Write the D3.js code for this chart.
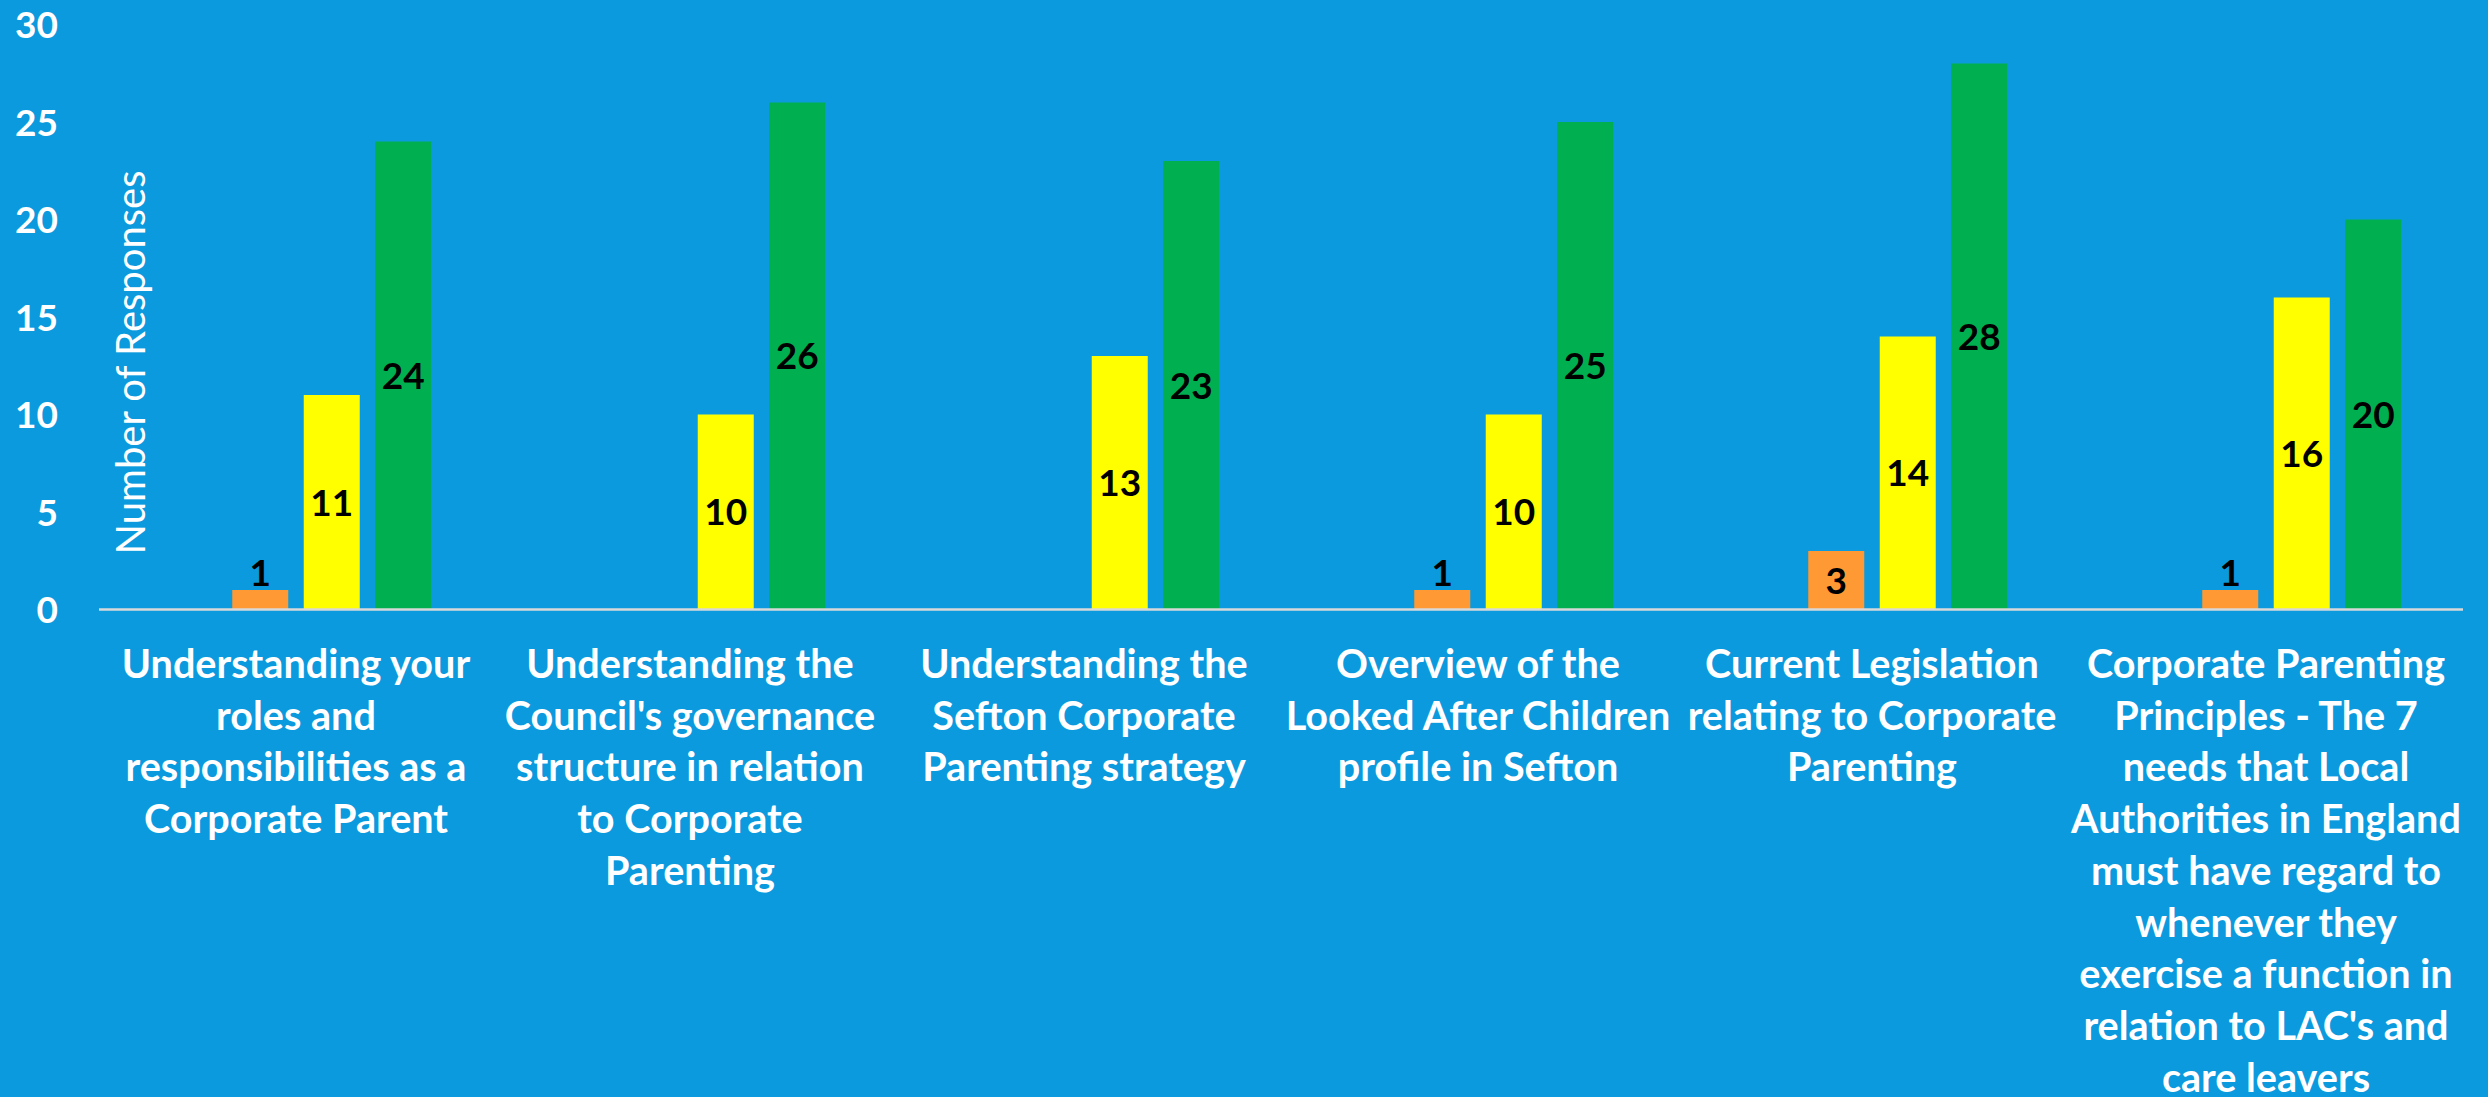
<!DOCTYPE html>
<html>
<head>
<meta charset="utf-8">
<script src="https://cdn.jsdelivr.net/npm/d3@7"></script>
<style>
  html, body { margin: 0; padding: 0; background: #0B9ADE; overflow: hidden; }
  svg { display: block; }
  text { font-family: "Lato", "Open Sans", sans-serif; }
</style>
</head>
<body>
<svg id="chart" width="2488" height="1097"></svg>
<script>
// ---- data ----
const categories = [
  ["Understanding your", "roles and", "responsibilities as a", "Corporate Parent"],
  ["Understanding the", "Council's governance", "structure in relation", "to Corporate", "Parenting"],
  ["Understanding the", "Sefton Corporate", "Parenting strategy"],
  ["Overview of the", "Looked After Children", "profile in Sefton"],
  ["Current Legislation", "relating to Corporate", "Parenting"],
  ["Corporate Parenting", "Principles - The 7", "needs that Local", "Authorities in England", "must have regard to", "whenever they", "exercise a function in", "relation to LAC's and", "care leavers"]
];
const seriesNames = ["None", "Low", "Medium", "High"];
const seriesNone   = [0, 0, 0, 0, 0, 0];
const seriesLow    = [1, null, null, 1, 3, 1];
const seriesMedium = [11, 10, 13, 10, 14, 16];
const seriesHigh   = [24, 26, 23, 25, 28, 20];
const seriesColors = ["#0B9ADE", "#FF9933", "#FFFF00", "#00B050"];
const yTicks = [0, 5, 10, 15, 20, 25, 30];
const yTitle = "Number of Responses";

// ---- layout ----
const svg = d3.select("#chart");
const plotLeft = 99, plotRight = 2463, plotTop = 24.5, plotBottom = 609.5;

const x0 = d3.scaleBand()
  .domain(d3.range(categories.length))
  .range([plotLeft, plotRight])
  .paddingInner(0).paddingOuter(0);

const x1 = d3.scaleBand()
  .domain(seriesNames)
  .range([0, x0.bandwidth()])
  .paddingInner(0.2168)
  .paddingOuter(0.8637);

const y = d3.scaleLinear().domain([0, 30]).range([plotBottom, plotTop]);

const seriesValues = [seriesNone, seriesLow, seriesMedium, seriesHigh];

// bars
const groups = svg.append("g").selectAll("g")
  .data(categories.map((c, i) => i))
  .join("g")
  .attr("transform", i => `translate(${x0(i)},0)`);

seriesNames.forEach((name, s) => {
  if (s === 0) return;
  groups.append("rect")
    .filter(i => seriesValues[s][i] != null && seriesValues[s][i] > 0)
    .attr("x", x1(name))
    .attr("width", x1.bandwidth())
    .attr("y", i => y(seriesValues[s][i]))
    .attr("height", i => y(0) - y(seriesValues[s][i]))
    .attr("fill", seriesColors[s]);
});

// x axis line
svg.append("line")
  .attr("x1", plotLeft).attr("x2", plotRight)
  .attr("y1", y(0)).attr("y2", y(0))
  .attr("stroke", "#D9D9D9").attr("stroke-width", 2.5);

// value labels
seriesNames.forEach((name, s) => {
  if (s === 0) return;
  groups.append("text")
    .filter(i => seriesValues[s][i] != null && seriesValues[s][i] > 0)
    .attr("x", x1(name) + x1.bandwidth() / 2)
    .attr("y", i => {
      const v = seriesValues[s][i];
      const h = y(0) - y(v);
      return h < 30 ? y(v) - 4 : (y(v) + y(0)) / 2;
    })
    .attr("dy", i => {
      const v = seriesValues[s][i];
      const h = y(0) - y(v);
      return h < 30 ? "0" : "0.36em";
    })
    .attr("text-anchor", "middle")
    .attr("font-weight", "bold")
    .attr("font-size", 37)
    .attr("fill", "#000")
    .text(i => seriesValues[s][i]);
});

// y axis tick labels
const yAxis = d3.axisLeft(y).tickValues(yTicks).tickSize(0).tickPadding(0);
const yg = svg.append("g").attr("transform", `translate(58,0)`).call(yAxis);
yg.select(".domain").remove();
yg.selectAll("text")
  .attr("font-family", "Lato, sans-serif")
  .attr("font-weight", "bold")
  .attr("font-size", 37)
  .attr("fill", "#FFFFFF")
  .attr("dy", "0.36em");

// y title
svg.append("text")
  .attr("transform", `translate(145,${362.5}) rotate(-90)`)
  .attr("text-anchor", "middle")
  .attr("font-size", 40)
  .attr("fill", "#FFFFFF")
  .text(yTitle);

// category labels
const lineH = 51.7;
const catG = svg.append("g");
categories.forEach((lines, i) => {
  const cx = x0(i) + x0.bandwidth() / 2;
  const t = catG.append("text")
    .attr("x", cx)
    .attr("y", 678)
    .attr("text-anchor", "middle")
    .attr("font-weight", "bold")
    .attr("font-size", 39.6)
    .attr("fill", "#FFFFFF");
  lines.forEach((ln, k) => {
    t.append("tspan")
      .attr("x", cx)
      .attr("y", 678 + k * lineH)
      .text(ln);
  });
});
</script>
</body>
</html>
